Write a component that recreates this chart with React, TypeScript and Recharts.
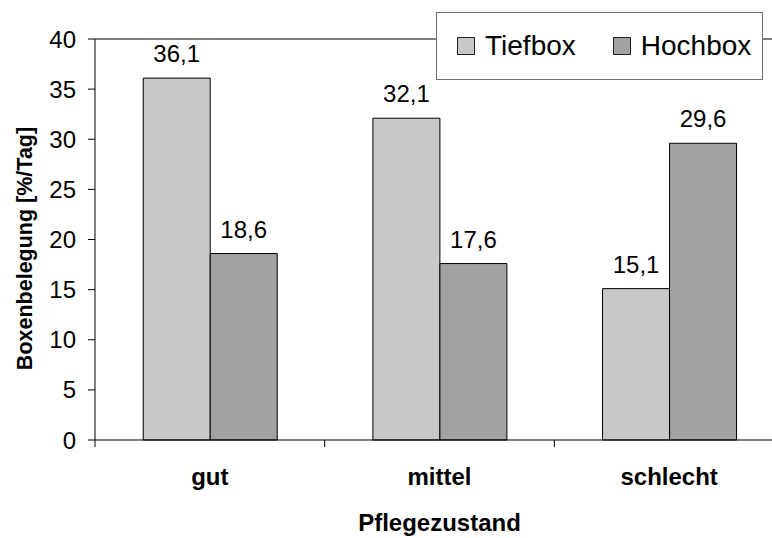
import { BarChart, Bar, XAxis, YAxis, Legend, LabelList, ReferenceLine } from 'recharts';

// Pflegezustand categories and box occupancy (%/Tag)
const categories = ['gut', 'mittel', 'schlecht'];
const seriesNames = ['Tiefbox', 'Hochbox'];
const tiefbox = [36.1, 32.1, 15.1];
const hochbox = [18.6, 17.6, 29.6];
const yTicks = [0, 5, 10, 15, 20, 25, 30, 35, 40];

const data = categories.map((name, i) => ({ name, Tiefbox: tiefbox[i], Hochbox: hochbox[i] }));

const FONT = '"Liberation Sans", Arial, sans-serif';
const fmt = (v: any) => Number(v).toFixed(1).replace('.', ',');

const CategoryTick = (props: any) => {
  const { x, y, payload, index } = props;
  const half = payload?.offset ?? 114.8;
  return (
    <g>
      {index === 0 && <line x1={x - half} x2={x - half} y1={y} y2={y + 7} stroke="#000" />}
      <line x1={x + half} x2={x + half} y1={y} y2={y + 7} stroke="#000" />
      <text x={x} y={y + 28} dy="0.71em" textAnchor="middle" fontFamily={FONT} fontSize={24} fontWeight="bold" fill="#000">
        {payload.value}
      </text>
    </g>
  );
};

const YTitle = (props: any) => {
  const { viewBox } = props;
  const cx = 25;
  const cy = viewBox.y + viewBox.height / 2 + 9;
  return (
    <text x={cx} y={cy} transform={`rotate(-90 ${cx} ${cy})`} textAnchor="middle" dominantBaseline="central"
      fontFamily={FONT} fontSize={21.5} fontWeight="bold" fill="#000">
      Boxenbelegung [%/Tag]
    </text>
  );
};

const LegendBox = (props: any) => {
  const items = [...(props.payload || [])].sort(
    (a: any, b: any) => seriesNames.indexOf(a.value) - seriesNames.indexOf(b.value)
  );
  return (
    <div style={{ display: 'flex', alignItems: 'center', height: '100%', paddingLeft: 20, fontFamily: FONT, fontSize: 28 }}>
      {items.map((p: any, i: number) => (
        <div key={p.value} style={{ display: 'flex', alignItems: 'center', marginRight: i === 0 ? 37 : 0 }}>
          <span style={{ display: 'inline-block', width: 16, height: 16, background: p.color, border: '1px solid #222', marginRight: 10 }} />
          <span>{p.value}</span>
        </div>
      ))}
    </div>
  );
};

export default function App() {
  return (
    <div style={{ position: 'absolute', left: 0, top: 0, width: 772, height: 538, overflow: 'hidden', background: '#fff' }}>
      <BarChart width={800} height={538} data={data} margin={{ top: 39, right: 16, left: 0, bottom: 0 }}
        barCategoryGap="21%" barGap={0}>
        <XAxis dataKey="name" height={98} stroke="#000" tickLine={false} tickSize={0} tickMargin={0} tick={<CategoryTick />}
          label={{ value: 'Pflegezustand', position: 'insideBottom', offset: 7, fontFamily: FONT, fontSize: 24, fontWeight: 'bold', fill: '#000' }} />
        <YAxis width={95} domain={[0, 40]} ticks={yTicks} interval={0} stroke="#000" tickSize={7} tickMargin={12}
          tick={{ fontFamily: FONT, fontSize: 24, fill: '#000' }} label={<YTitle />} />
        <ReferenceLine y={40} stroke="#000" />
        <Legend verticalAlign="middle" align="center" layout="horizontal" content={<LegendBox />}
          wrapperStyle={{ left: 436, top: 12, width: 327, height: 68, border: '1px solid #707070', background: '#fff', boxSizing: 'border-box' }} />
        <Bar dataKey="Tiefbox" fill="#C8C8C8" stroke="#000" strokeWidth={1} isAnimationActive={false}>
          <LabelList dataKey="Tiefbox" position="top" offset={16} formatter={fmt}
            style={{ fontFamily: FONT, fontSize: 24, fill: '#000' }} />
        </Bar>
        <Bar dataKey="Hochbox" fill="#A2A2A2" stroke="#000" strokeWidth={1} isAnimationActive={false}>
          <LabelList dataKey="Hochbox" position="top" offset={16} formatter={fmt}
            style={{ fontFamily: FONT, fontSize: 24, fill: '#000' }} />
        </Bar>
      </BarChart>
    </div>
  );
}
